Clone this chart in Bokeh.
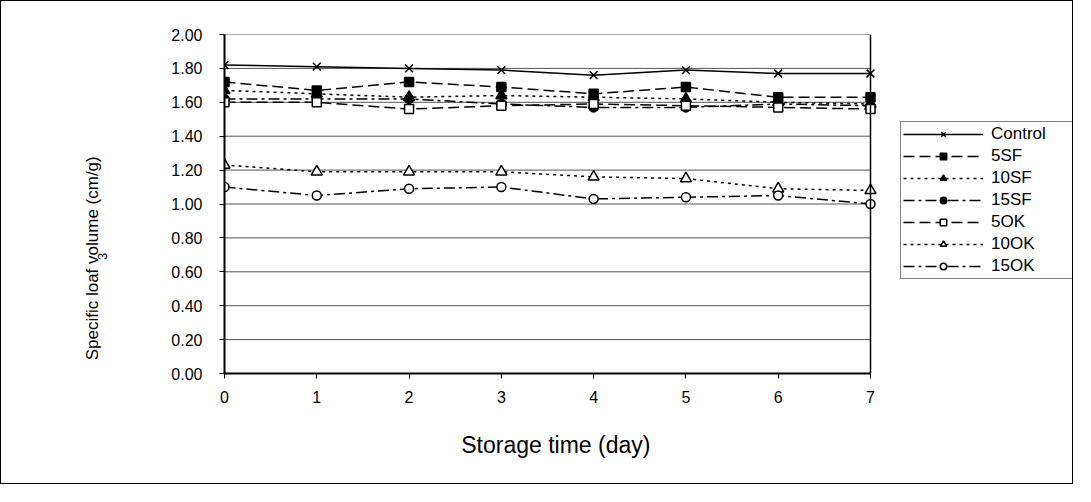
from bokeh.plotting import figure
from bokeh.models import (Range1d, FixedTicker, PrintfTickFormatter, Legend, LegendItem,
                          LinearAxis, Span)
from bokeh.embed import file_html
from bokeh.resources import INLINE

# ---- data ----
days = [0, 1, 2, 3, 4, 5, 6, 7]
control = [1.82, 1.81, 1.80, 1.79, 1.76, 1.79, 1.77, 1.77]
sf5 = [1.72, 1.67, 1.72, 1.69, 1.65, 1.69, 1.63, 1.63]
sf10 = [1.67, 1.65, 1.63, 1.64, 1.63, 1.62, 1.60, 1.59]
sf15 = [1.62, 1.62, 1.62, 1.59, 1.57, 1.57, 1.59, 1.58]
ok5 = [1.60, 1.60, 1.56, 1.58, 1.59, 1.58, 1.57, 1.56]
ok10 = [1.23, 1.19, 1.19, 1.19, 1.16, 1.15, 1.09, 1.08]
ok15 = [1.10, 1.05, 1.09, 1.10, 1.03, 1.04, 1.05, 1.00]
series_names = ["Control", "5SF", "10SF", "15SF", "5OK", "10OK", "15OK"]
y_ticks = [0.0, 0.2, 0.4, 0.6, 0.8, 1.0, 1.2, 1.4, 1.6, 1.8, 2.0]
x_ticks = [0, 1, 2, 3, 4, 5, 6, 7]
x_title = "Storage time (day)"
y_title = "Specific loaf volume (cm/g)"
y_title_sup = "3"

FONT = "Liberation Sans, Arial, sans-serif"
NB = "\u00a0"

X_MIN, X_MAX = x_ticks[0], x_ticks[-1]
# the frame reaches over the legend area to the right; axis/grid stop at 0..7
X_VIEW = X_MAX * 848 / 646

p = figure(width=1073, height=484, output_backend="svg", toolbar_location=None,
           x_range=Range1d(X_MIN, X_VIEW), y_range=Range1d(0, 2),
           min_border_left=223, min_border_right=2, min_border_top=33, min_border_bottom=112)
p.styles = {"border": "1px solid black"}
p.background_fill_color = "white"
p.border_fill_color = "white"
p.outline_line_color = None

# axes
p.xaxis.ticker = FixedTicker(ticks=x_ticks)
p.xaxis.bounds = (X_MIN, X_MAX)
p.yaxis.ticker = FixedTicker(ticks=y_ticks)
p.yaxis.formatter = PrintfTickFormatter(format="%.2f")
for ax in (p.xaxis[0], p.yaxis[0]):
    ax.axis_line_color = "black"
    ax.axis_line_width = 2
    ax.major_tick_line_color = "black"
    ax.major_tick_out = 5
    ax.major_tick_in = 0
    ax.minor_tick_line_color = None
    ax.major_label_text_font = FONT
    ax.major_label_text_font_size = "16px"
    ax.major_label_text_color = "black"
    ax.axis_label_text_color = "black"
    ax.axis_label_text_font = FONT
    ax.axis_label_text_font_style = "normal"
p.yaxis.major_label_standoff = 17
p.xaxis.major_label_standoff = 12
p.xaxis.axis_label = x_title + NB * 29
p.xaxis.axis_label_text_font_size = "23px"
p.xaxis.axis_label_standoff = 26

# superscript "3" of the y title (drawn as the inner y-axis label)
p.yaxis.axis_label = y_title_sup + NB * 29
p.yaxis.axis_label_text_font_size = "13px"
p.yaxis.axis_label_standoff = 58

# outer y title
ytitle_axis = LinearAxis(ticker=FixedTicker(ticks=[]), axis_line_color=None,
                         major_tick_line_color=None, minor_tick_line_color=None,
                         major_tick_out=0, major_tick_in=0, major_label_standoff=0,
                         axis_label=y_title + NB * 23, axis_label_text_color="black",
                         axis_label_text_font=FONT, axis_label_text_font_size="17px",
                         axis_label_text_font_style="normal", axis_label_standoff=-9)
p.add_layout(ytitle_axis, "left")

# horizontal gridlines, only across the 0..7 plot area
p.xgrid.grid_line_color = None
p.ygrid.grid_line_color = None
p.segment(x0=[X_MIN] * len(y_ticks), x1=[X_MAX] * len(y_ticks), y0=y_ticks, y1=y_ticks,
          line_color="#555555", line_width=1)

p.add_layout(Span(location=X_MAX, dimension="height", line_color="black", line_width=1.5))

styles = [
    (control, "solid", "x", 11, "black"),
    (sf5, "11 5", "square", 9, "black"),
    (sf10, "3 4", "triangle", 11, "black"),
    (sf15, "11 4 3 4", "circle", 9, "black"),
    (ok5, "11 5", "square", 9, "white"),
    (ok10, "3 4", "triangle", 11, "white"),
    (ok15, "11 4 3 4", "circle", 9, "white"),
]

items = []
for name, (vals, dash, marker, size, fc) in zip(series_names, styles):
    lr = p.line(days, vals, line_color="black", line_width=1.5, line_dash=dash)
    sr = p.scatter(days, vals, marker=marker, size=size, line_color="black",
                   fill_color=fc, line_width=1.5)
    items.append(LegendItem(label=name, renderers=[lr, sr]))

legend = Legend(items=items, location=(676, 94), orientation="vertical")
legend.border_line_color = "black"
legend.border_line_width = 1.5
legend.background_fill_color = "white"
legend.background_fill_alpha = 1
legend.label_text_font = FONT
legend.label_text_font_size = "17px"
legend.label_text_color = "black"
legend.glyph_width = 80
legend.glyph_height = 16
legend.label_height = 16
legend.label_width = 94
legend.label_standoff = 8
legend.padding = 2
legend.spacing = 2
legend.margin = 0
p.add_layout(legend, "center")

open("out.html", "w").write(file_html(p, INLINE))
